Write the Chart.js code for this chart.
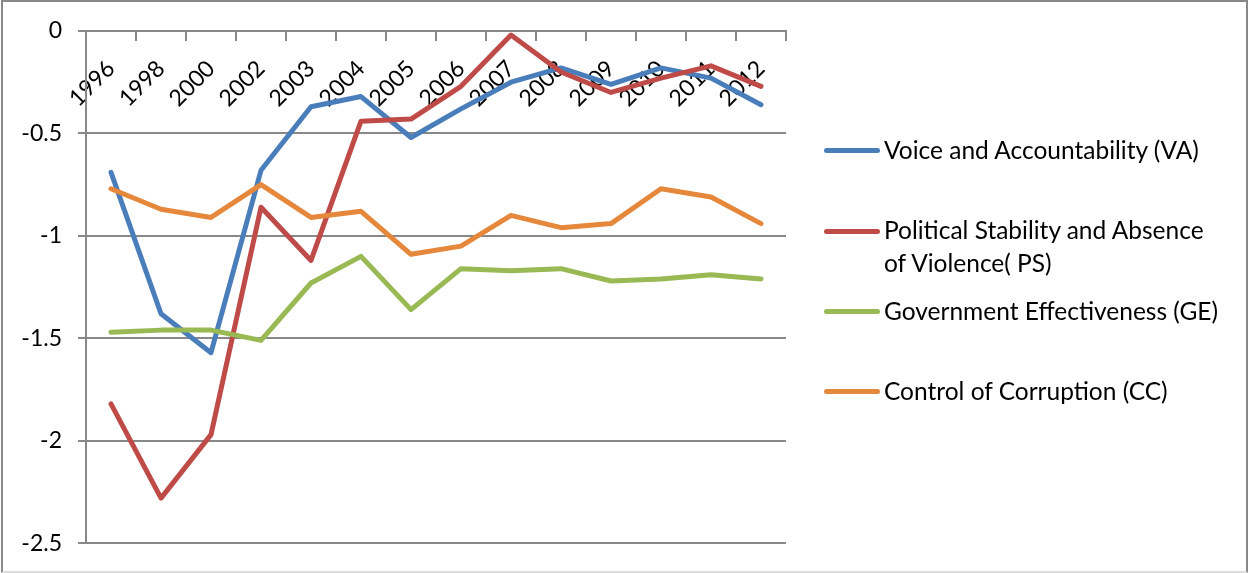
<!DOCTYPE html>
<html lang="en">
<head>
<meta charset="utf-8">
<title>Worldwide Governance Indicators 1996-2012</title>
<script src="https://cdn.jsdelivr.net/npm/chart.js@4.4.1/dist/chart.umd.min.js"></script>
<style>
    html, body { margin: 0; padding: 0; background: #fff; }
    #wrap { position: relative; width: 1248px; height: 573px; overflow: hidden; }
    #frame {
        position: absolute; left: 1px; top: 0; width: 1247px; height: 573px;
        box-sizing: border-box; border: 2px solid #888; border-bottom-color: #dcdcdc;
    }
    #governance_chart { position: absolute; left: 0; top: 0; }
    .legend_item { position: absolute; left: 824px; font-family: Lato, sans-serif; font-size: 24.5px; line-height: 33px; color: #000; }
    .legend_line { position: absolute; left: 0; width: 56px; height: 5px; border-radius: 2.5px; }
    .legend_text { position: absolute; left: 60px; white-space: nowrap; }
</style>
</head>
<body>
<div id="wrap">
    <canvas id="governance_chart" width="1248" height="573"></canvas>
    <div id="frame"></div>
    <div id="legend"></div>
</div>
<script>
// 横軸の年
const years = ['1996', '1998', '2000', '2002', '2003', '2004', '2005', '2006', '2007', '2008', '2009', '2010', '2011', '2012'];
// 各指標の値
const va_values = [-0.69, -1.38, -1.57, -0.68, -0.37, -0.32, -0.52, -0.38, -0.25, -0.18, -0.26, -0.18, -0.23, -0.36];
const ps_values = [-1.82, -2.28, -1.97, -0.86, -1.12, -0.44, -0.43, -0.27, -0.02, -0.20, -0.30, -0.23, -0.17, -0.27];
const ge_values = [-1.47, -1.46, -1.46, -1.51, -1.23, -1.10, -1.36, -1.16, -1.17, -1.16, -1.22, -1.21, -1.19, -1.21];
const cc_values = [-0.77, -0.87, -0.91, -0.75, -0.91, -0.88, -1.09, -1.05, -0.90, -0.96, -0.94, -0.77, -0.81, -0.94];
// 縦軸の目盛り
const y_ticks = [0, -0.5, -1, -1.5, -2, -2.5];
// 凡例のラベル
const series_labels = [
    'Voice and Accountability (VA)',
    'Political Stability and Absence\nof Violence( PS)',
    'Government Effectiveness (GE)',
    'Control of Corruption (CC)'
];

const series_colors = ['#4a7ebb', '#be4b48', '#98b954', '#e6883b'];
const grid_color = '#888';
const font_family = 'Lato, sans-serif';

let chart = null;

// 凡例を作成
function create_legend(){
    const legend = document.getElementById('legend');
    // 各項目の線の縦位置
    const line_tops = [148, 228.5, 309, 389];
    series_labels.forEach(function(label, index){
        const item = document.createElement('div');
        item.className = 'legend_item';
        item.style.top = (line_tops[index] - 15.5) + 'px';

        const line = document.createElement('div');
        line.className = 'legend_line';
        line.style.top = '15.5px';
        line.style.background = series_colors[index];
        item.appendChild(line);

        const text = document.createElement('div');
        text.className = 'legend_text';
        text.style.top = '0px';
        label.split('\n').forEach(function(row, i){
            if(i > 0) text.appendChild(document.createElement('br'));
            text.appendChild(document.createTextNode(row));
        });
        item.appendChild(text);
        legend.appendChild(item);
    });
}

// グラフを作成
function create_chart(){
    if(chart){
        chart.destroy();
    }
    const all_values = [va_values, ps_values, ge_values, cc_values];
    const datasets = all_values.map(function(values, index){
        return {
            label: series_labels[index].replace('\n', ' '),
            data: values,
            borderColor: series_colors[index],
            backgroundColor: series_colors[index],
            // 後の系列ほど上に描く
            order: all_values.length - index
        };
    });

    const canvas = document.getElementById('governance_chart');
    chart = new Chart(canvas.getContext('2d'), {
        type: 'line',
        data: {
            labels: years,
            datasets: datasets
        },
        options: {
            responsive: false,
            animation: false,
            devicePixelRatio: 1,
            layout: {
                padding: { left: 0, top: 31, right: 462, bottom: 29 }
            },
            elements: {
                point: { radius: 0 },
                line: { tension: 0, borderWidth: 5, borderCapStyle: 'round', borderJoinStyle: 'round' }
            },
            plugins: {
                legend: { display: false },
                tooltip: { enabled: false }
            },
            scales: {
                x: {
                    type: 'category',
                    // 0 の位置に横軸を置く
                    position: { y: 0 },
                    offset: true,
                    grid: {
                        offset: true,
                        drawOnChartArea: false,
                        drawTicks: true,
                        tickLength: 9,
                        color: grid_color,
                        lineWidth: 2
                    },
                    border: { display: true, color: grid_color, width: 2 },
                    ticks: {
                        autoSkip: false,
                        minRotation: 45,
                        maxRotation: 45,
                        padding: 15,
                        labelOffset: 0,
                        color: '#000',
                        font: { family: font_family, size: 23 }
                    }
                },
                y: {
                    min: -2.5,
                    max: 0,
                    afterFit: function(scale){
                        scale.width = 86;
                    },
                    afterBuildTicks: function(scale){
                        scale.ticks = y_ticks.map(function(v){ return { value: v }; });
                    },
                    grid: {
                        color: grid_color,
                        lineWidth: 2,
                        drawTicks: true,
                        tickLength: 8
                    },
                    border: { display: true, color: grid_color, width: 2 },
                    ticks: {
                        padding: 16,
                        color: '#000',
                        font: { family: font_family, size: 23 },
                        callback: function(value){
                            return String(+value.toFixed(1));
                        }
                    }
                }
            }
        }
    });
}

create_legend();
create_chart();
</script>
</body>
</html>
